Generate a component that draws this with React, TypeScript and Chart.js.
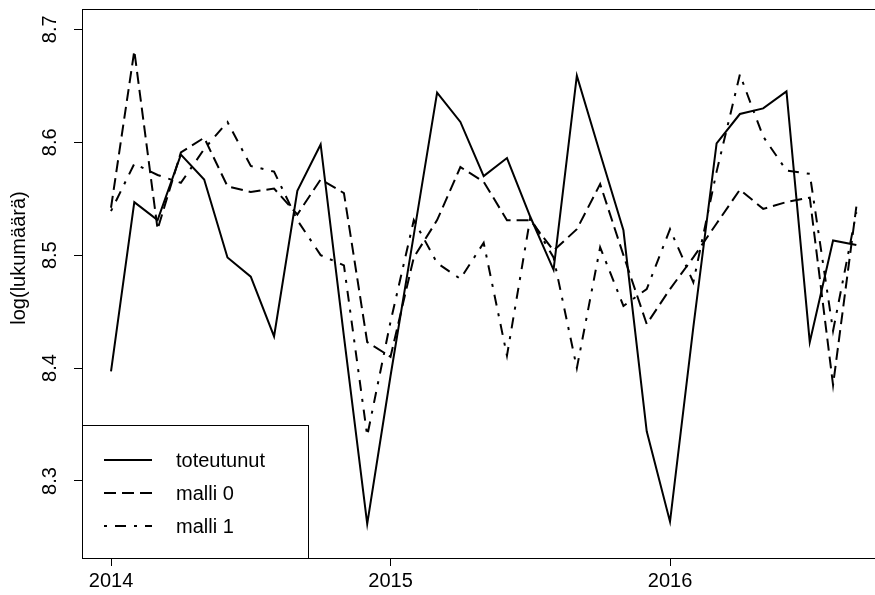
import React, { useEffect, useRef } from "react";
import { Chart, registerables } from "chart.js";

Chart.register(...registerables);

// Monthly series, January 2014 .. September 2016
const startYear = 2014;
const seriesLabels = ["toteutunut", "malli 0", "malli 1"];

const toteutunut = [
  8.397, 8.547, 8.531, 8.589, 8.567, 8.498, 8.481, 8.428, 8.557, 8.598, 8.428, 8.262,
  8.393, 8.518, 8.644, 8.618, 8.570, 8.586, 8.534, 8.487, 8.659, 8.590, 8.522, 8.344,
  8.264, 8.436, 8.599, 8.625, 8.630, 8.645, 8.423, 8.513, 8.509,
];
const malli0 = [
  8.542, 8.681, 8.523, 8.591, 8.604, 8.561, 8.556, 8.559, 8.536, 8.567, 8.555, 8.423,
  8.410, 8.498, 8.531, 8.578, 8.565, 8.531, 8.531, 8.504, 8.523, 8.563, 8.500, 8.439,
  8.470, 8.498, 8.528, 8.558, 8.541, 8.547, 8.551, 8.385, 8.543,
];
const malli1 = [
  8.539, 8.581, 8.571, 8.564, 8.594, 8.618, 8.579, 8.574, 8.531, 8.500, 8.491, 8.340,
  8.441, 8.531, 8.493, 8.479, 8.511, 8.411, 8.533, 8.498, 8.400, 8.507, 8.455, 8.470,
  8.523, 8.476, 8.574, 8.660, 8.605, 8.575, 8.572, 8.433, 8.538,
];

const xTicks = [2014, 2015, 2016];
const yTicks = [8.3, 8.4, 8.5, 8.6, 8.7];
const yTitle = "log(lukumäärä)";

const FONT = "'Liberation Sans', Arial, Helvetica, sans-serif";
const dashes: number[][] = [[], [12, 6], [3, 8, 11, 8]];

const toPoints = (arr: number[]) => arr.map((v, i) => ({ x: startYear + i / 12, y: v }));

const customDraw = {
  id: "customDraw",
  afterDraw(chart: any) {
    const ctx = chart.ctx;
    const area = chart.chartArea;
    const ys = chart.scales.y;
    ctx.save();
    // top border
    ctx.strokeStyle = "#000";
    ctx.lineWidth = 1;
    ctx.beginPath();
    ctx.moveTo(area.left, area.top + 0.5);
    ctx.lineTo(area.right, area.top + 0.5);
    ctx.stroke();

    // rotated y tick labels
    ctx.fillStyle = "#000";
    ctx.font = `20px ${FONT}`;
    ctx.textAlign = "center";
    ctx.textBaseline = "alphabetic";
    yTicks.forEach((t) => {
      const py = ys.getPixelForValue(t);
      ctx.save();
      ctx.translate(55.5, py);
      ctx.rotate(-Math.PI / 2);
      ctx.fillText(t.toFixed(1), 0, 0);
      ctx.restore();
    });
    // y title
    ctx.save();
    ctx.translate(25, 258);
    ctx.rotate(-Math.PI / 2);
    ctx.fillText(yTitle, 0, 0);
    ctx.restore();

    // legend
    const lx = area.left, lt = 425, lr = 308, lb = area.bottom;
    ctx.fillStyle = "#fff";
    ctx.fillRect(lx, lt, lr - lx, lb - lt);
    ctx.strokeStyle = "#000";
    ctx.lineWidth = 1;
    ctx.strokeRect(lx + 0.5, lt + 0.5, lr - lx, lb - lt);
    const rows = [460, 493, 526];
    seriesLabels.forEach((lab, i) => {
      ctx.save();
      ctx.lineWidth = 2;
      ctx.setLineDash(dashes[i]);
      ctx.beginPath();
      ctx.moveTo(104, rows[i]);
      ctx.lineTo(152, rows[i]);
      ctx.stroke();
      ctx.restore();
      ctx.fillStyle = "#000";
      ctx.textAlign = "left";
      ctx.textBaseline = "middle";
      ctx.font = `20px ${FONT}`;
      ctx.fillText(lab, 176, rows[i] + 1);
    });
    ctx.restore();
  },
};

export default function App() {
  const ref = useRef<HTMLCanvasElement>(null);
  useEffect(() => {
    if (!ref.current) return;
    const series = [toteutunut, malli0, malli1];
    const chart = new Chart(ref.current, {
      type: "line",
      data: {
        datasets: series.map((arr, i) => ({
          label: seriesLabels[i],
          data: toPoints(arr),
          borderColor: "#000",
          backgroundColor: "#000",
          borderWidth: 2,
          borderDash: dashes[i],
          borderCapStyle: "butt",
          pointRadius: 0,
          tension: 0,
          fill: false,
        })),
      },
      options: {
        animation: false,
        responsive: false,
        devicePixelRatio: 1,
        layout: { padding: { top: 9, right: 0, left: 0, bottom: 0 } },
        plugins: { legend: { display: false }, tooltip: { enabled: false } },
        scales: {
          x: {
            type: "linear",
            min: 2013.8962,
            max: 2016.7334,
            afterBuildTicks: (s: any) => {
              s.ticks = xTicks.map((v) => ({ value: v }));
            },
            afterFit: (s: any) => {
              s.height = 37;
            },
            ticks: {
              callback: (v: any) => String(v),
              font: { family: FONT, size: 20 },
              color: "#000",
              maxRotation: 0,
              minRotation: 0,
              autoSkip: false,
              padding: 3,
            },
            grid: { drawOnChartArea: false, drawTicks: true, tickLength: 8, color: "#000" },
            border: { display: true, color: "#000", width: 1 },
          },
          y: {
            type: "linear",
            min: 8.2318,
            max: 8.718,
            afterBuildTicks: (s: any) => {
              s.ticks = yTicks.map((v) => ({ value: v }));
            },
            afterFit: (s: any) => {
              s.width = 82;
            },
            ticks: {
              callback: (v: any) => Number(v).toFixed(1),
              color: "rgba(0,0,0,0)",
              font: { family: FONT, size: 1 },
              padding: 0,
            },
            grid: { drawOnChartArea: false, drawTicks: true, tickLength: 8, color: "#000" },
            border: { display: true, color: "#000", width: 1 },
          },
        },
      },
      plugins: [customDraw],
    });
    return () => chart.destroy();
  }, []);
  return (
    <div style={{ position: "absolute", left: 0, top: 0, width: 875, height: 595, background: "#fff" }}>
      <canvas ref={ref} width={875} height={595} />
    </div>
  );
}
